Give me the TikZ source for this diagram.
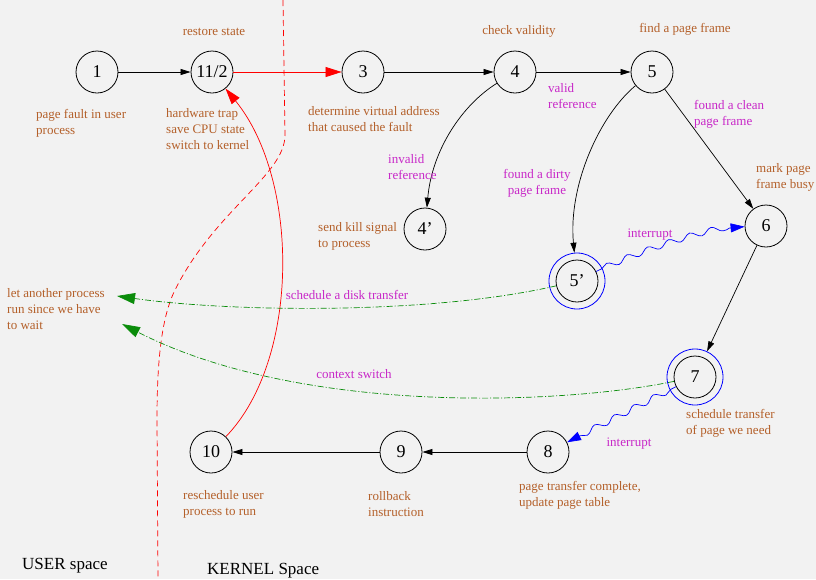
\documentclass[tikz,border=0pt]{standalone}
\usepackage{fontspec}
\setmainfont{Liberation Serif}
\usetikzlibrary{arrows.meta,decorations.pathmorphing}
\definecolor{paper}{HTML}{F2F2F2}
\definecolor{notec}{HTML}{B4602A}
\definecolor{condc}{HTML}{C828C8}
\definecolor{schedc}{HTML}{0A8C0A}

\begin{document}
\begin{tikzpicture}[x=1pt,y=-1pt,
  state/.style={circle,draw,line width=0.8pt,minimum size=42pt,inner sep=0pt,
    font=\fontsize{18}{18}\selectfont},
  ring/.style={circle,draw=blue,line width=0.8pt,minimum size=56pt,inner sep=0pt},
  note/.style={text=notec,font=\fontsize{13}{16}\selectfont,align=left,inner sep=0pt,anchor=west},
  cond/.style={text=condc,font=\fontsize{13}{16}\selectfont,align=left,inner sep=0pt,anchor=west},
  space/.style={font=\fontsize{17}{17}\selectfont,inner sep=0pt,anchor=west},
  link/.style={draw,line width=0.7pt,-{Triangle[length=10pt,width=6pt]}},
  redlink/.style={draw=red,line width=0.7pt,-{Triangle[length=16pt,width=10pt]}},
  intr/.style={draw=blue,line width=0.7pt,-{Triangle[length=14pt,width=9pt]},
    decorate,decoration={snake,amplitude=3pt,segment length=22pt,pre length=6pt,post length=14pt}},
  sched/.style={draw=schedc,line width=0.7pt,dash pattern=on 6pt off 2pt on 1pt off 2pt,
    -{Triangle[length=18pt,width=11pt]}},
  divider/.style={draw=red,line width=0.7pt,dash pattern=on 6pt off 4pt}
]
\useasboundingbox (0,0) rectangle (816,579);
\fill[paper] (0,0) rectangle (816,579);

% user / kernel boundary
\draw[divider] (283,0) -- (285,135) .. controls (285,175) and (215,210) .. (175,290)
  .. controls (160,320) and (157,370) .. (157,420) -- (158,579);

% states
\node[state] (n1)   at (97,72)   {1};
\node[state] (n112) at (212,72)  {11/2};
\node[state] (n3)   at (363,72)  {3};
\node[state] (n4)   at (515,72)  {4};
\node[state] (n5)   at (652,72)  {5};
\node[state] (n4p)  at (425,229) {4'};
\node[state] (n5p)  at (577,281) {5'};
\node[ring]  (n5po) at (577,281) {};
\node[state] (n6)   at (766,226) {6};
\node[state] (n7)   at (695,377) {7};
\node[ring]  (n7o)  at (695,377) {};
\node[state] (n8)   at (548,452) {8};
\node[state] (n9)   at (401,452) {9};
\node[state] (n10)  at (211,452) {10};

\coordinate (waitA) at (117,296);
\coordinate (waitB) at (122,324);

% transitions
\draw[link] (n1) -- (n112);
\draw[redlink] (n112) -- (n3);
\draw[link] (n3) -- (n4);
\draw[link] (n4) -- (n5);
\draw[link] (n4) .. controls (462,105) and (432,150) .. (n4p);
\draw[link] (n5) .. controls (600,115) and (568,185) .. (n5po);
\draw[link] (n5) -- (n6);
\draw[link] (n6) -- (n7o);
\draw[link] (n8) -- (n9);
\draw[link] (n9) -- (n10);
\draw[redlink] (n10) .. controls (300,360) and (300,180) .. (n112);
\draw[intr] (n5p) .. controls (615,262) and (700,228) .. (n6);
\draw[intr] (n7) -- (n8);
\draw[sched] (n5p) .. controls (430,315) and (230,312) .. (waitA);
\draw[sched] (n7) .. controls (560,405) and (300,415) .. (waitB);

% step descriptions
\node[note, anchor=center] (tRestore) at (214,32) {restore state};
\node[note] (tFault) at (36,123) {page fault in user\\process};
\node[note] (tTrap) at (166,129) {hardware trap\\save CPU state\\switch to kernel};
\node[note] (tAddr) at (308,119) {determine virtual address\\that caused the fault};
\node[note, anchor=center] (tCheck) at (519,31) {check validity};
\node[note, anchor=center] (tFind) at (685,29) {find a page frame};
\node[note] (tBusy) at (756,177) {mark page\\frame busy};
\node[note] (tKill) at (318,236) {send kill signal\\to process};
\node[note] (tWait) at (7,309) {let another process\\run since we have\\to wait};
\node[note] (tSched) at (686,423) {schedule transfer\\of page we need};
\node[note] (tDone) at (519,495) {page transfer complete,\\update page table};
\node[note] (tRoll) at (368,504) {rollback\\instruction};
\node[note] (tResch) at (183,504) {reschedule user\\process to run};

% transition labels
\node[cond] (cValid) at (548,96) {valid\\reference};
\node[cond] (cInvalid) at (388,167) {invalid\\reference};
\node[cond, align=center, anchor=center] (cDirty) at (537,183) {found a dirty\\page frame};
\node[cond] (cClean) at (694,114) {found a clean\\page frame};
\node[cond, anchor=center] (cInt1) at (650,235) {interrupt};
\node[cond, anchor=center] (cInt2) at (629,444) {interrupt};
\node[cond, anchor=center] (cDisk) at (347,295) {schedule a disk transfer};
\node[cond, anchor=center] (cCtx) at (354,374) {context switch};

% regions
\node[space] (uSpace) at (22,566) {USER space};
\node[space] (kSpace) at (207,571) {KERNEL Space};
\end{tikzpicture}
\end{document}
